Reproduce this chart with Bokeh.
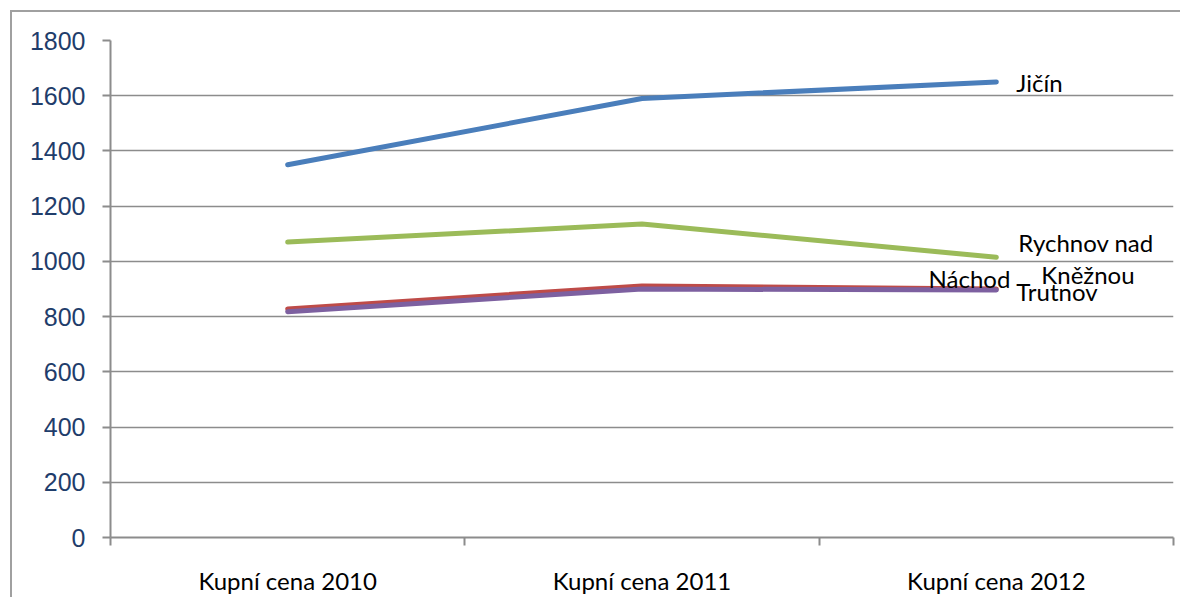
from bokeh.plotting import figure
from bokeh.models import FixedTicker, Range1d
from bokeh.core.properties import value
from bokeh.embed import file_html
from bokeh.resources import INLINE

categories = ["Kupní cena 2010", "Kupní cena 2011", "Kupní cena 2012"]
series_names = ["Náchod", "Trutnov", "Rychnov nad Kněžnou", "Jičín"]
nachod = [828, 911, 900]
trutnov = [818, 900, 896]
rychnov = [1070, 1135, 1015]
jicin = [1350, 1590, 1650]
y_ticks = [0, 200, 400, 600, 800, 1000, 1200, 1400, 1600, 1800]

colors = {"Náchod": "#BE4B48", "Trutnov": "#7D60A0",
          "Rychnov nad Kněžnou": "#9BBB59", "Jičín": "#4A7EBB"}
values = {"Náchod": nachod, "Trutnov": trutnov,
          "Rychnov nad Kněžnou": rychnov, "Jičín": jicin}

xs = [i + 0.5 for i in range(len(categories))]

p = figure(width=1180, height=597, output_backend="svg", toolbar_location=None,
           x_range=Range1d(0, len(categories)), y_range=Range1d(0, 1800),
           min_border_left=110, min_border_right=7, min_border_top=40,
           min_border_bottom=51)
p.outline_line_color = None
p.background_fill_color = "white"
p.border_fill_color = None
# chart-area border: top and left edges only, 10px in from the corner
p.styles = {"background": ("linear-gradient(#a0a0a0, #a0a0a0) 10px 10px / 2px 100% no-repeat, "
                           "linear-gradient(#a0a0a0, #a0a0a0) 10px 10px / 100% 2px no-repeat, "
                           "white")}

for name in series_names:
    p.line(xs, values[name], line_color=colors[name], line_width=5,
           line_cap="round", line_join="round")

# end labels
lbl_font = value("Lato")
fs = "24px"
last = len(categories) - 1
p.text([xs[last]], [jicin[last]], text=["Jičín"], x_offset=20, y_offset=1,
       text_baseline="middle", text_font=lbl_font, text_font_size=fs, text_color="black")
p.text([xs[last]], [rychnov[last]], text=["Rychnov nad"], x_offset=22, y_offset=-15,
       text_baseline="middle", text_font=lbl_font, text_font_size=fs, text_color="black")
p.text([xs[last]], [rychnov[last]], text=["Kněžnou"], x_offset=45, y_offset=17,
       text_baseline="middle", text_font=lbl_font, text_font_size=fs, text_color="black")
p.text([xs[last]], [nachod[last]], text=["Náchod"], x_offset=14, y_offset=-11,
       text_baseline="middle", text_align="right", text_font=lbl_font,
       text_font_size=fs, text_color="black")
p.text([xs[last]], [trutnov[last]], text=["Trutnov"], x_offset=20, y_offset=1,
       text_baseline="middle", text_font=lbl_font, text_font_size=fs, text_color="black")

# y axis
p.yaxis.ticker = FixedTicker(ticks=y_ticks)
p.yaxis.axis_line_color = "#8c8c8c"
p.yaxis.axis_line_width = 2
p.yaxis.major_tick_line_color = "#8c8c8c"
p.yaxis.major_tick_line_width = 2
p.yaxis.major_tick_out = 8
p.yaxis.major_tick_in = 0
p.yaxis.minor_tick_line_color = None
p.yaxis.major_label_text_font = "Liberation Sans"
p.yaxis.major_label_text_font_size = "25px"
p.yaxis.major_label_text_color = "#1F3D6B"
p.yaxis.major_label_standoff = 17

# x axis
p.xaxis.ticker = FixedTicker(ticks=xs, minor_ticks=list(range(len(categories) + 1)))
p.xaxis.major_label_overrides = {x: c for x, c in zip(xs, categories)}
p.xaxis.axis_line_color = "#8c8c8c"
p.xaxis.axis_line_width = 2
p.xaxis.major_tick_line_color = None
p.xaxis.major_tick_out = 0
p.xaxis.major_tick_in = 0
p.xaxis.minor_tick_line_color = "#8c8c8c"
p.xaxis.minor_tick_line_width = 2
p.xaxis.minor_tick_out = 8
p.xaxis.minor_tick_in = 0
p.xaxis.major_label_text_font = "Lato"
p.xaxis.major_label_text_font_size = "24px"
p.xaxis.major_label_text_color = "black"
p.xaxis.major_label_standoff = 20

p.xgrid.grid_line_color = None
p.ygrid.ticker = FixedTicker(ticks=y_ticks)
p.ygrid.grid_line_color = "#8c8c8c"
p.ygrid.grid_line_width = 1.5

open("out.html", "w").write(file_html(p, INLINE))
